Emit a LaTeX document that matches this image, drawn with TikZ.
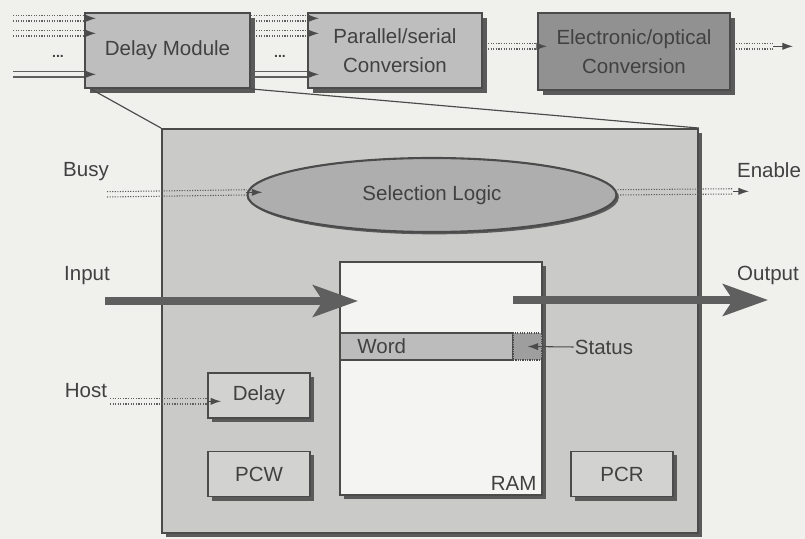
\documentclass[tikz,border=0pt]{standalone}
\usepackage{fontspec}
\setmainfont{Liberation Sans}
\usepackage{tikz}
\usetikzlibrary{shapes.geometric, arrows.meta, positioning, shadows}
\definecolor{bgcol}{RGB}{240,240,237}
\definecolor{modgray}{RGB}{190,190,190}
\definecolor{optgray}{RGB}{145,145,145}
\definecolor{panelgray}{RGB}{202,202,201}
\definecolor{ellgray}{RGB}{174,174,174}
\definecolor{rowgray}{RGB}{188,188,188}
\definecolor{statgray}{RGB}{158,158,158}
\definecolor{cellgray}{RGB}{210,210,209}
\definecolor{ramfill}{RGB}{244,244,242}
\definecolor{edgecol}{RGB}{75,75,75}
\definecolor{shadowcol}{RGB}{90,90,90}
\definecolor{linecol}{RGB}{95,95,95}
\definecolor{txtcol}{RGB}{65,65,65}
\definecolor{fatcol}{RGB}{95,95,95}
\tikzstyle{module} = [rectangle, draw=edgecol, line width=1.6pt, fill=modgray, text=txtcol, align=center, font=\fontsize{17.5}{25}\selectfont, drop shadow={shadow xshift=0.14cm, shadow yshift=-0.14cm, fill=shadowcol, opacity=1}]
\tikzstyle{panel} = [rectangle, draw=edgecol, line width=1.6pt, fill=panelgray, drop shadow={shadow xshift=0.12cm, shadow yshift=-0.12cm, fill=shadowcol, opacity=1}]
\tikzstyle{logic} = [ellipse, draw=edgecol, line width=1.8pt, fill=ellgray, text=txtcol, inner sep=0pt, font=\fontsize{17.5}{21}\selectfont, drop shadow={shadow xshift=0.07cm, shadow yshift=-0.07cm, fill=shadowcol, opacity=1}]
\tikzstyle{membox} = [rectangle, draw=edgecol, line width=1.4pt, fill=ramfill, drop shadow={shadow xshift=0.12cm, shadow yshift=-0.12cm, fill=shadowcol, opacity=1}]
\tikzstyle{rowbox} = [rectangle, draw=edgecol, line width=1pt, fill=rowgray]
\tikzstyle{statbox} = [rectangle, draw=edgecol, line width=1pt, dash pattern=on 1pt off 1pt, fill=statgray]
\tikzstyle{cell} = [rectangle, draw=edgecol, line width=1.4pt, fill=cellgray, text=txtcol, minimum width=3.06cm, minimum height=1.35cm, font=\fontsize{17.5}{21}\selectfont, drop shadow={shadow xshift=0.12cm, shadow yshift=-0.12cm, fill=shadowcol, opacity=1}]
\tikzstyle{lbl} = [text=txtcol, inner sep=1pt, font=\fontsize{17.5}{21}\selectfont]
\tikzstyle{busdot} = [draw=linecol, line width=0.9pt, dash pattern=on 1pt off 1.2pt, preaction={draw=linecol, line width=0.9pt, dash pattern=on 1pt off 1.2pt, transform canvas={yshift=4.5pt}}]
\tikzstyle{busline} = [draw=linecol, line width=0.9pt, preaction={draw=linecol, line width=0.9pt, transform canvas={yshift=4.5pt}}]
\tikzstyle{tipmark} = [draw=edgecol, line width=0.9pt, -{Latex[length=0.32cm, width=0.22cm]}]
\tikzstyle{fat} = [draw=fatcol, line width=0.22cm, -{Stealth[length=1.35cm, width=0.95cm, inset=0.3cm]}]
\tikzstyle{zoomline} = [draw=edgecol, line width=1pt]

\begin{document}
\begin{tikzpicture}[x=0.03cm, y=-0.03cm]
\useasboundingbox[fill=bgcol] (0,0) rectangle (805,539);

\node (dm) [module, minimum width=4.95cm, minimum height=2.25cm] at (167.5,50.5) {\raisebox{0.15cm}{Delay Module}};
\node (psc) [module, minimum width=5.22cm, minimum height=2.25cm] at (395,50.5) {Parallel/serial\\Conversion};
\node (eoc) [module, fill=optgray, minimum width=5.76cm, minimum height=2.31cm] at (634,51.5) {Electronic/optical\\Conversion};
\node (dots1) [lbl, font=\bfseries\fontsize{12}{14}\selectfont] at (58,56) {...};
\node (dots2) [lbl, font=\bfseries\fontsize{12}{14}\selectfont] at (280,56) {...};

\node (big) [panel, minimum width=16.08cm, minimum height=12.12cm] at (430,331) {};
\draw [zoomline] ([xshift=0.2cm]dm.south west) -- (big.north west);
\draw [zoomline] (dm.south east) -- (big.north east);

\node (sel) [logic, minimum width=11.07cm, minimum height=2.22cm] at (432,195) {Selection Logic};
\node (ram) [membox, minimum width=6.06cm, minimum height=6.99cm] at (441,378.5) {};
\node (word) [rowbox, minimum width=5.19cm, minimum height=0.81cm] at (426.5,346.5) {};
\node (stat) [statbox, minimum width=0.87cm, minimum height=0.81cm] at (527.5,346.5) {};
\node (wordlbl) [lbl, anchor=west] at ([xshift=0.5cm]word.west) {Word};
\node (ramlbl) [lbl, anchor=south east] at ([xshift=-0.15cm, yshift=0.12cm]ram.south east) {RAM};
\node (dly) [cell] at (259,395.5) {Delay};
\node (pcw) [cell] at (259,474) {PCW};
\node (pcr) [cell] at (622,474) {PCR};

\node (busy) [lbl] at (86,172) {Busy};
\node (enable) [lbl] at (769,170) {Enable};
\node (input) [lbl] at (87,276) {Input};
\node (output) [lbl] at (768,275) {Output};
\node (host) [lbl] at (86,391) {Host};
\node (status) [lbl] at (604,347) {Status};

\coordinate (in1) at (13,21);
\coordinate (in2) at (13,36);
\coordinate (in3) at (13,77);
\coordinate (optout) at (773,49);
\coordinate (busyend) at (107,197);
\coordinate (enend) at (733,194);
\coordinate (hostend) at (110,404);
\coordinate (inpstart) at (105,301);
\coordinate (inptip) at (358,301);
\coordinate (outstart) at (513,300);
\coordinate (outtip) at (768,300);

\draw [busdot] (in1) -- (dm.west |- in1);
\draw [busdot] (in2) -- (dm.west |- in2);
\draw [busline] (in3) -- (dm.west |- in3);
\draw [busdot] (dm.east |- in1) -- (psc.west |- in1);
\draw [busdot] (dm.east |- in2) -- (psc.west |- in2);
\draw [busline] (dm.east |- in3) -- (psc.west |- in3);
\foreach \c in {in1,in2,in3} {
  \draw [tipmark] ([yshift=0.08cm]dm.west |- \c) -- ++(12,0);
  \draw [tipmark] ([yshift=0.08cm]psc.west |- \c) -- ++(12,0);
}
\draw [busdot] (psc.east |- optout) -- (eoc.west |- optout);
\draw [tipmark] ([yshift=0.08cm]eoc.west |- optout) -- ++(10,0);
\draw [busdot] (eoc.east |- optout) -- (optout);
\draw [tipmark] ([yshift=0.08cm]optout) -- ++(20,0);

\draw [busdot] (busyend) -- (sel.west);
\draw [tipmark] ([yshift=0.08cm]sel.west) -- ++(16,0);
\draw [busdot] (sel.east) -- (enend);
\draw [tipmark] ([yshift=0.08cm]enend) -- ++(16,0);
\draw [busdot] (hostend) -- (dly.west |- hostend);
\draw [tipmark] ([yshift=0.08cm]dly.west |- hostend) -- ++(14,0);
\draw [tipmark] (status.west) -- (stat.center);

\draw [fat] (inpstart) -- (inptip);
\draw [fat] (outstart) -- (outtip);
\end{tikzpicture}
\end{document}
